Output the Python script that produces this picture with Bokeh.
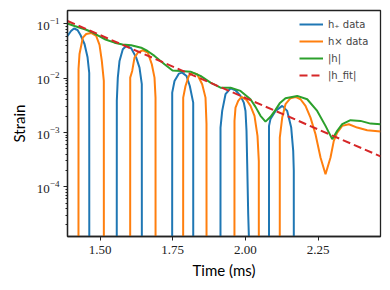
from bokeh.plotting import figure
from bokeh.models import ColumnDataSource, Range1d, FixedTicker, LogTicker, Legend, LegendItem
from bokeh.embed import file_html
from bokeh.resources import INLINE

CLIP = 1e-30  # non-positive samples are clipped on the log axis

# h_+ data (0 marks a non-positive sample)
t_plus = [1.3882, 1.4003, 1.4106, 1.4226, 1.4329, 1.4467, 1.4570, 1.4629, 1.4650,
          1.5560, 1.5578, 1.5612, 1.5671, 1.5784, 1.5901, 1.6073, 1.6245, 1.6358, 1.6437, 1.6455,
          1.7470, 1.7483, 1.7562, 1.7710, 1.7827, 1.7975, 1.8088, 1.8205, 1.8220,
          1.9130, 1.9144, 1.9202, 1.9316, 1.9488, 1.9660, 1.9832, 1.9945, 2.0003, 2.0038, 2.0062, 2.0096, 2.0124, 2.0140,
          2.0800, 2.0812, 2.0863, 2.1035, 2.1266, 2.1437, 2.1575, 2.1644, 2.1664, 2.1680, 2.4646]
h_plus = [0.0601, 0.0743, 0.0827, 0.0776, 0.0627, 0.0428, 0.0247, 0.01253, 0,
          0, 0.00383, 0.01027, 0.02084, 0.0342, 0.0394, 0.0357, 0.0240, 0.01569, 0.00777, 0,
          0, 0.00544, 0.00893, 0.01217, 0.01269, 0.01104, 0.00722, 0.00356, 0,
          0, 0.001234, 0.002504, 0.00508, 0.00655, 0.00602, 0.00473, 0.00356, 0.00250, 0.001073, 0.000265, 3.18e-5, 1.02e-5, 0,
          0, 0.001327, 0.001784, 0.002504, 0.003096, 0.002504, 0.001234, 0.000460, 0.000197, 0, 0]

# h_x data
t_cross = [1.3882, 1.4250, 1.4261, 1.4295, 1.4409, 1.4525, 1.4697, 1.4869, 1.4983, 1.5062, 1.5131, 1.5145,
           1.6025, 1.6039, 1.6107, 1.6186, 1.6300, 1.6472, 1.6644, 1.6781, 1.6874, 1.6909, 1.6925,
           1.7845, 1.7861, 1.7940, 1.8054, 1.8171, 1.8342, 1.8514, 1.8628, 1.8662, 1.8680,
           1.9610, 1.9625, 1.9660, 1.9752, 1.9866, 2.0038, 2.0175, 2.0313, 2.0416, 2.0461, 2.0475,
           2.1170, 2.1183, 2.1266, 2.1379, 2.1551, 2.1723, 2.1895, 2.2067, 2.2239, 2.2411, 2.2583, 2.2755,
           2.2927, 2.3040, 2.3157, 2.3329, 2.3556, 2.3845, 2.4188, 2.4646]
h_cross = [0, 0, 0.01485, 0.02804, 0.0560, 0.0655, 0.0683, 0.0601, 0.0411, 0.02084, 0.00893, 0,
           0, 0.01027, 0.01364, 0.0240, 0.0296, 0.0328, 0.0296, 0.0181, 0.01027, 0.00440, 0,
           0, 0.00440, 0.00722, 0.01104, 0.01269, 0.01187, 0.00777, 0.00440, 0.001443, 0,
           0, 0.00164, 0.00288, 0.00383, 0.00453, 0.00399, 0.00310, 0.00203, 0.000868, 0.000301, 0,
           0, 0.000808, 0.001886, 0.003327, 0.004290, 0.004532, 0.00411, 0.003096, 0.001886, 0.000933, 0.000346, 0.000171,
           0.000346, 0.000702, 0.000998, 0.001327, 0.001425, 0.001234, 0.001105, 0.001042]

# |h|
t_abs = [1.3882, 1.4123, 1.4501, 1.4708, 1.4924, 1.5189, 1.5499, 1.5774, 1.6073, 1.6417, 1.6633, 1.6874,
         1.7218, 1.7493, 1.7768, 1.8112, 1.8456, 1.8800, 1.9144, 1.9488, 1.9832, 2.0175, 2.0347, 2.0519,
         2.0691, 2.0863, 2.1035, 2.1179, 2.1379, 2.1781, 2.2125, 2.2469, 2.2755, 2.2985, 2.3157, 2.3329,
         2.3614, 2.3958, 2.4302, 2.4646]
h_abs = [0.1021, 0.0919, 0.0792, 0.0713, 0.0614, 0.0518, 0.0453, 0.0419, 0.0406, 0.0366, 0.0318, 0.0258,
         0.0181, 0.01393, 0.01364, 0.01324, 0.01104, 0.00831, 0.00672, 0.00672, 0.00585, 0.00411, 0.00297, 0.00203,
         0.00159, 0.00195, 0.00262, 0.00345, 0.00429, 0.00473, 0.00411, 0.00250, 0.001327, 0.000755, 0.001073, 0.001425,
         0.001689, 0.00164, 0.001462, 0.001425]

# |h_fit|
t_fit = [1.3882, 2.4646]
h_fit = [0.1135, 3.64e-4]

x_ticks = [1.5, 1.75, 2.0, 2.25]
x_tick_labels = ["1.50", "1.75", "2.00", "2.25"]
series_labels = ["h\u208a data", "h\u00d7 data", "|h|", "|h_fit|"]

def clip(v):
    return [x if x > 0 else CLIP for x in v]

p = figure(width=382, height=282, output_backend="svg", toolbar_location=None,
           y_axis_type="log", x_range=Range1d(1.3882, 2.4646), y_range=Range1d(1.216e-5, 0.1772),
           min_border_left=67, min_border_right=2, min_border_top=10, min_border_bottom=46)

p.xgrid.visible = False
p.ygrid.visible = False
p.outline_line_color = "#222222"
p.outline_line_width = 1.3
p.background_fill_color = "white"
p.border_fill_color = "white"

src_p = ColumnDataSource(dict(t=t_plus, h=clip(h_plus)))
src_c = ColumnDataSource(dict(t=t_cross, h=clip(h_cross)))
src_a = ColumnDataSource(dict(t=t_abs, h=h_abs))
src_f = ColumnDataSource(dict(t=t_fit, h=h_fit))

r1 = p.line("t", "h", source=src_p, line_color="#1f77b4", line_width=2)
r2 = p.line("t", "h", source=src_c, line_color="#ff7f0e", line_width=2)
r3 = p.line("t", "h", source=src_a, line_color="#2ca02c", line_width=2)
r4 = p.line("t", "h", source=src_f, line_color="#d62728", line_width=2, line_dash="8 4")

xa = p.xaxis[0]
xa.ticker = FixedTicker(ticks=x_ticks, minor_ticks=[])
xa.major_label_overrides = {k: v for k, v in zip(x_ticks, x_tick_labels)}
ya = p.yaxis[0]
ya.ticker = LogTicker(num_minor_ticks=10)

for ax in (xa, ya):
    ax.axis_line_color = "#222222"
    ax.axis_line_width = 1.3
    ax.major_tick_line_color = "#222222"
    ax.minor_tick_line_color = "#222222"
    ax.major_tick_out = 4
    ax.major_tick_in = 0
    ax.minor_tick_out = 2
    ax.minor_tick_in = 0
    ax.major_label_text_font = "Liberation Serif"
    ax.major_label_text_font_size = "13px"
    ax.major_label_text_color = "#222222"
    ax.axis_label_text_font = "Lato"
    ax.axis_label_text_font_size = "15px"
    ax.axis_label_text_font_style = "normal"
    ax.axis_label_text_color = "black"

xa.axis_label = "Time (ms)"
xa.major_label_standoff = 5
xa.axis_label_standoff = 4
ya.axis_label = "Strain"
ya.major_label_standoff = 4
ya.axis_label_standoff = 6

legend = Legend(items=[
    LegendItem(label=series_labels[0], renderers=[r1]),
    LegendItem(label=series_labels[1], renderers=[r2]),
    LegendItem(label=series_labels[2], renderers=[r3]),
    LegendItem(label=series_labels[3], renderers=[r4]),
], location=(232, 154))
legend.background_fill_alpha = 0
legend.border_line_alpha = 0
legend.padding = 0
legend.margin = 0
legend.spacing = 3
legend.glyph_width = 24
legend.glyph_height = 14
legend.label_height = 14
legend.label_standoff = 5
legend.label_text_font = "DejaVu Sans"
legend.label_text_font_size = "10px"
legend.label_text_baseline = "middle"
p.add_layout(legend, "center")

open("out.html", "w").write(file_html(p, INLINE))
